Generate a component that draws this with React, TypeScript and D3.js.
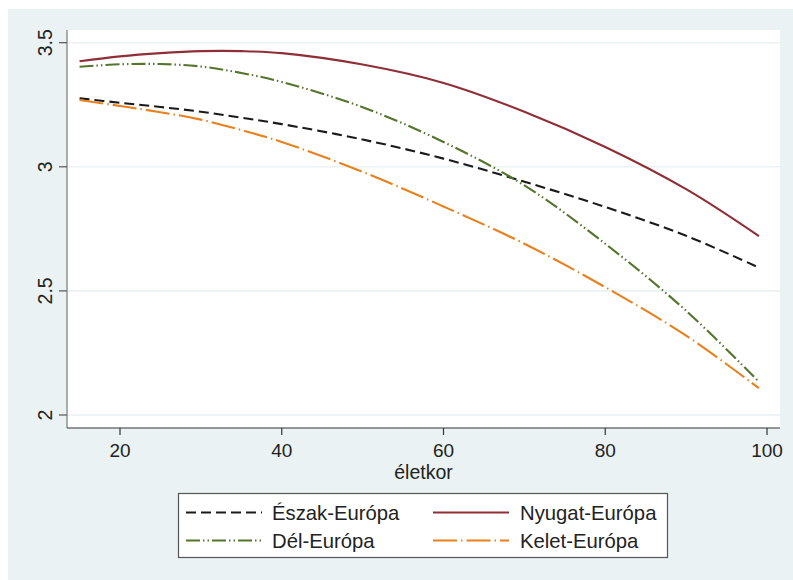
import React from "react";
import * as d3 from "d3";

const ages = [15, 20, 25, 30, 35, 40, 50, 60, 70, 80, 90, 99];
const eszak = [3.276, 3.258, 3.241, 3.222, 3.198, 3.172, 3.110, 3.033, 2.940, 2.838, 2.722, 2.594];
const nyugat = [3.425, 3.445, 3.458, 3.466, 3.466, 3.458, 3.412, 3.338, 3.222, 3.080, 2.910, 2.721];
const del = [3.403, 3.413, 3.414, 3.404, 3.378, 3.342, 3.240, 3.100, 2.925, 2.690, 2.420, 2.134];
const kelet = [3.269, 3.245, 3.220, 3.190, 3.148, 3.100, 2.980, 2.840, 2.690, 2.515, 2.320, 2.108];

const xTicks = [20, 40, 60, 80, 100];
const yTicks = [2, 2.5, 3, 3.5];
const yTickLabels = ["2", "2.5", "3", "3.5"];
const xTitle = "életkor";

const seriesNames = ["Észak-Európa", "Nyugat-Európa", "Dél-Európa", "Kelet-Európa"];
const seriesColors = ["#1a1a1a", "#8f2e36", "#55752f", "#e8801e"];
const seriesDash = ["10,5", "", "14,3,1.5,3,1.5,3", "24,4,1.5,4"];

export default function App() {
  const W = 793, H = 580;
  const plot = { left: 67, right: 780, top: 30, bottom: 428 };
  const x = d3.scaleLinear().domain([20, 100]).range([120, 767]);
  const y = d3.scaleLinear().domain([2, 3.5]).range([415, 42.7]);
  const values = [eszak, nyugat, del, kelet];
  const line = d3
    .line<[number, number]>()
    .x((d) => x(d[0]))
    .y((d) => y(d[1]))
    .curve(d3.curveCatmullRom.alpha(0.5));
  const font = "'Liberation Sans', Arial, Helvetica, sans-serif";
  const legendPos = [
    { lx: 186, tx: 272, y: 512.5 },
    { lx: 433, tx: 520, y: 512.5 },
    { lx: 186, tx: 272, y: 540.5 },
    { lx: 433, tx: 520, y: 540.5 },
  ];
  return (
    <svg
      width={W}
      height={H}
      style={{ position: "absolute", left: 0, top: 0, display: "block" }}
      fontFamily={font}
    >
      <rect x={0} y={0} width={W} height={H} fill="#ffffff" />
      <rect x={8} y={9} width={W - 8} height={H - 9} fill="#eaf2f3" />
      <rect
        x={plot.left}
        y={plot.top}
        width={plot.right - plot.left}
        height={plot.bottom - plot.top}
        fill="#ffffff"
      />
      {yTicks.map((t) => (
        <line
          key={"g" + t}
          x1={plot.left}
          x2={plot.right}
          y1={y(t)}
          y2={y(t)}
          stroke="#eaf2f3"
          strokeWidth={1.6}
        />
      ))}
      {values.map((vals, i) => (
        <path
          key={seriesNames[i]}
          d={line(ages.map((a, j) => [a, vals[j]] as [number, number])) || ""}
          fill="none"
          stroke={seriesColors[i]}
          strokeWidth={2.1}
          strokeDasharray={seriesDash[i] || undefined}
        />
      ))}
      <line x1={plot.left} x2={plot.left} y1={plot.top} y2={plot.bottom} stroke="#7a7a7a" strokeWidth={1.2} />
      <line x1={plot.left} x2={plot.right} y1={plot.bottom} y2={plot.bottom} stroke="#333" strokeWidth={1.2} />
      {yTicks.map((t, i) => (
        <g key={"yt" + t}>
          <line x1={plot.left - 8} x2={plot.left} y1={y(t)} y2={y(t)} stroke="#555" strokeWidth={1.2} />
          <text
            transform={`translate(52,${y(t)}) rotate(-90)`}
            textAnchor="middle"
            fontSize={19.5}
            fill="#222"
          >
            {yTickLabels[i]}
          </text>
        </g>
      ))}
      {xTicks.map((t) => (
        <g key={"xt" + t}>
          <line x1={x(t)} x2={x(t)} y1={plot.bottom} y2={plot.bottom + 7} stroke="#333" strokeWidth={1.2} />
          <text x={x(t)} y={457} textAnchor="middle" fontSize={19} fill="#222">
            {t}
          </text>
        </g>
      ))}
      <text x={(plot.left + plot.right) / 2} y={479} textAnchor="middle" fontSize={19.5} fill="#222">
        {xTitle}
      </text>
      <rect x={178.5} y={493.5} width={489} height={64} fill="#ffffff" stroke="#555" strokeWidth={1.2} />
      {seriesNames.map((n, i) => (
        <g key={"lg" + n}>
          <line
            x1={legendPos[i].lx}
            x2={legendPos[i].lx + 76}
            y1={legendPos[i].y}
            y2={legendPos[i].y}
            stroke={seriesColors[i]}
            strokeWidth={2.1}
            strokeDasharray={seriesDash[i] || undefined}
          />
          <text x={legendPos[i].tx} y={legendPos[i].y + 7.4} fontSize={20.3} fill="#222">
            {n}
          </text>
        </g>
      ))}
    </svg>
  );
}
